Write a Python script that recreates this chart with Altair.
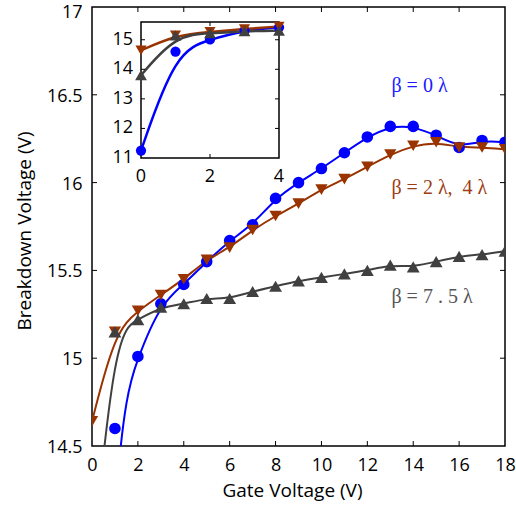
import altair as alt
import pandas as pd

# Breakdown voltage versus gate voltage for three beta values
gate_v = list(range(19))
vb_beta0 = [11.25, 14.60, 15.01, 15.31, 15.42, 15.55, 15.67, 15.76, 15.91, 16.00,
            16.08, 16.17, 16.26, 16.32, 16.32, 16.27, 16.20, 16.24, 16.23]
vb_beta2 = [14.64, 15.15, 15.27, 15.36, 15.45, 15.56, 15.63, 15.73, 15.81, 15.88,
            15.96, 16.02, 16.09, 16.16, 16.21, 16.23, 16.20, 16.20, 16.19]
vb_beta75 = [13.80, 15.15, 15.22, 15.29, 15.31, 15.34, 15.34, 15.38, 15.41, 15.44,
             15.46, 15.48, 15.50, 15.53, 15.52, 15.55, 15.58, 15.59, 15.61]

series_names = ["β=0λ", "β=2λ, 4λ", "β=7.5λ"]
series_colors = ["#0000ff", "#993300", "#404040"]
series_shapes = ["circle", "triangle-down", "triangle-up"]
series_sizes = [135, 165, 165]
inset_sizes = [105, 140, 140]

# annotation text (spaced like the TeX rendering) and anchor points
label_texts = ["β\u2005=\u20050\u2005λ", "β\u2005=\u20052\u2005λ,\u2005\u20054\u2005λ", "β\u2005=\u20057\u2005.\u20055\u2005λ"]
label_colors = ["#1a1aff", "#9c3d14", "#555555"]
label_gate = [13.05, 13.05, 13.05]
label_vb = [16.55, 15.97, 15.35]

# axis ticks
x_ticks = [0, 2, 4, 6, 8, 10, 12, 14, 16, 18]
y_ticks = [14.5, 15, 15.5, 16, 16.5, 17]
x_domain = [0, 18]
y_domain = [14.5, 17]

# inset (zoom on the low gate-voltage range)
inset_x_ticks = [0, 2, 4]
inset_y_ticks = [11, 12, 13, 14, 15]
inset_x_domain = [0, 4]
inset_y_domain = [11, 15.6]

W, H = 413, 439
FONT = "Open Sans"

rows = []
for name, vals in zip(series_names, [vb_beta0, vb_beta2, vb_beta75]):
    for g, v in zip(gate_v, vals):
        rows.append({"gate": g, "vb": v, "series": name})
df = pd.DataFrame(rows)

color = alt.Color("series:N", scale=alt.Scale(domain=series_names, range=series_colors), legend=None)
shape = alt.Shape("series:N", scale=alt.Scale(domain=series_names, range=series_shapes), legend=None)

xs = alt.Scale(domain=x_domain, nice=False, zero=False)
ys = alt.Scale(domain=y_domain, nice=False, zero=False)

x_enc = alt.X("gate:Q", scale=xs, axis=alt.Axis(
    values=x_ticks, ticks=False, domain=False, grid=False, labelFlush=False,
    labelPadding=10, format="~g", title="Gate Voltage (V)", titlePadding=7, titleX=200))
y_enc = alt.Y("vb:Q", scale=ys, axis=alt.Axis(
    values=y_ticks, ticks=False, domain=False, grid=False, labelFlush=False,
    labelPadding=10,
    labelOffset=alt.condition(f"datum.value == {y_domain[1]}", alt.value(5), alt.value(1.5)),
    format="~g", title="Breakdown Voltage (V)", titlePadding=12, titleY=223.5))

lines = alt.Chart(df).mark_line(interpolate="basis", strokeWidth=2, clip=True).encode(
    x=x_enc, y=y_enc, color=color, detail="series:N")
points = alt.Chart(df).mark_point(filled=True, opacity=1, clip=True).encode(
    x="gate:Q", y="vb:Q", color=color, shape=shape,
    size=alt.Size("series:N", scale=alt.Scale(domain=series_names, range=series_sizes), legend=None))

lab_df = pd.DataFrame({"gate": label_gate, "vb": label_vb, "text": label_texts, "c": label_colors})
labels = alt.Chart(lab_df).mark_text(font="Liberation Serif", fontSize=20, align="left",
                                     baseline="middle").encode(
    x="gate:Q", y="vb:Q", text="text:N", color=alt.Color("c:N", scale=None))


def inner_ticks(gx, gy, path, xscale=None, yscale=None, size=100):
    """Short inward tick drawn as a custom-path symbol at each tick value."""
    d = pd.DataFrame({"gate": gx, "vb": gy})
    if xscale is None:
        x, y = alt.X("gate:Q"), alt.Y("vb:Q")
    else:
        x = alt.X("gate:Q", scale=xscale, axis=None)
        y = alt.Y("vb:Q", scale=yscale, axis=None)
    return alt.Chart(d).mark_point(shape=path, size=size, filled=False, stroke="black",
                                   strokeWidth=1, opacity=1).encode(x=x, y=y)


main_ticks = [
    inner_ticks(x_ticks[1:-1], [y_domain[0]] * (len(x_ticks) - 2), "M0,0L0,-1"),
    inner_ticks(x_ticks[1:-1], [y_domain[1]] * (len(x_ticks) - 2), "M0,0L0,1"),
    inner_ticks([x_domain[0]] * (len(y_ticks) - 2), y_ticks[1:-1], "M0,0L1,0"),
    inner_ticks([x_domain[1]] * (len(y_ticks) - 2), y_ticks[1:-1], "M0,0L-1,0"),
]

main = alt.layer(lines, points, labels, *main_ticks)

# ---- inset panel, placed inside the main plot area through explicit ranges
ixs = alt.Scale(domain=inset_x_domain, range=[49, 187], nice=False, zero=False)
iys = alt.Scale(domain=inset_y_domain, range=[151, 15], nice=False, zero=False)

df_in = df[df["gate"] <= inset_x_domain[1]]
frame_df = pd.DataFrame({"x0": [inset_x_domain[0]], "x1": [inset_x_domain[1]],
                         "y0": [inset_y_domain[0]], "y1": [inset_y_domain[1]]})
frame = alt.Chart(frame_df).mark_rect(fill="white", stroke="black", strokeWidth=1.5).encode(
    x=alt.X("x0:Q", scale=ixs, axis=None), x2="x1:Q",
    y=alt.Y("y0:Q", scale=iys, axis=None), y2="y1:Q")
in_lines = alt.Chart(df_in).mark_line(interpolate="basis", strokeWidth=2.5).encode(
    x=alt.X("gate:Q", scale=ixs, axis=None), y=alt.Y("vb:Q", scale=iys, axis=None),
    color=color, detail="series:N")
in_points = alt.Chart(df_in).mark_point(filled=True, opacity=1).encode(
    x=alt.X("gate:Q", scale=ixs, axis=None), y=alt.Y("vb:Q", scale=iys, axis=None),
    color=color, shape=shape,
    size=alt.Size("series:N", scale=alt.Scale(domain=series_names, range=inset_sizes), legend=None))
in_xlab = alt.Chart(pd.DataFrame({"gate": inset_x_ticks, "vb": [inset_y_domain[0]] * 3})).mark_text(
    font=FONT, fontSize=18, baseline="middle", dy=19, color="black").encode(
    x=alt.X("gate:Q", scale=ixs, axis=None), y=alt.Y("vb:Q", scale=iys, axis=None),
    text=alt.Text("gate:Q", format="~g"))
in_ylab = alt.Chart(pd.DataFrame({"gate": [inset_x_domain[0]] * 5, "vb": inset_y_ticks})).mark_text(
    font=FONT, fontSize=18, baseline="middle", align="right", dx=-8, color="black").encode(
    x=alt.X("gate:Q", scale=ixs, axis=None), y=alt.Y("vb:Q", scale=iys, axis=None),
    text=alt.Text("vb:Q", format="~g"))
in_ticks = [
    inner_ticks([2], [inset_y_domain[0]], "M0,0L0,-1", ixs, iys, 64),
    inner_ticks([2], [inset_y_domain[1]], "M0,0L0,1", ixs, iys, 64),
    inner_ticks([inset_x_domain[0]] * 4, inset_y_ticks[1:], "M0,0L1,0", ixs, iys, 64),
    inner_ticks([inset_x_domain[1]] * 4, inset_y_ticks[1:], "M0,0L-1,0", ixs, iys, 64),
]

inset = alt.layer(frame, in_lines, in_points, in_xlab, in_ylab, *in_ticks)

chart = alt.layer(main, inset).resolve_scale(
    x="independent", y="independent", size="independent").properties(
    width=W, height=H,
    autosize=alt.AutoSizeParams(type="none"),
    padding={"left": 92, "top": 7, "right": 11, "bottom": 61},
    background="white",
).configure_view(stroke="black", strokeWidth=1.5).configure_axis(
    labelFont=FONT, labelFontSize=18, labelColor="black",
    titleFont=FONT, titleFontSize=19, titleFontWeight="normal", titleColor="black",
)

chart.save("out.html", embed_options={"renderer": "svg", "actions": False})
